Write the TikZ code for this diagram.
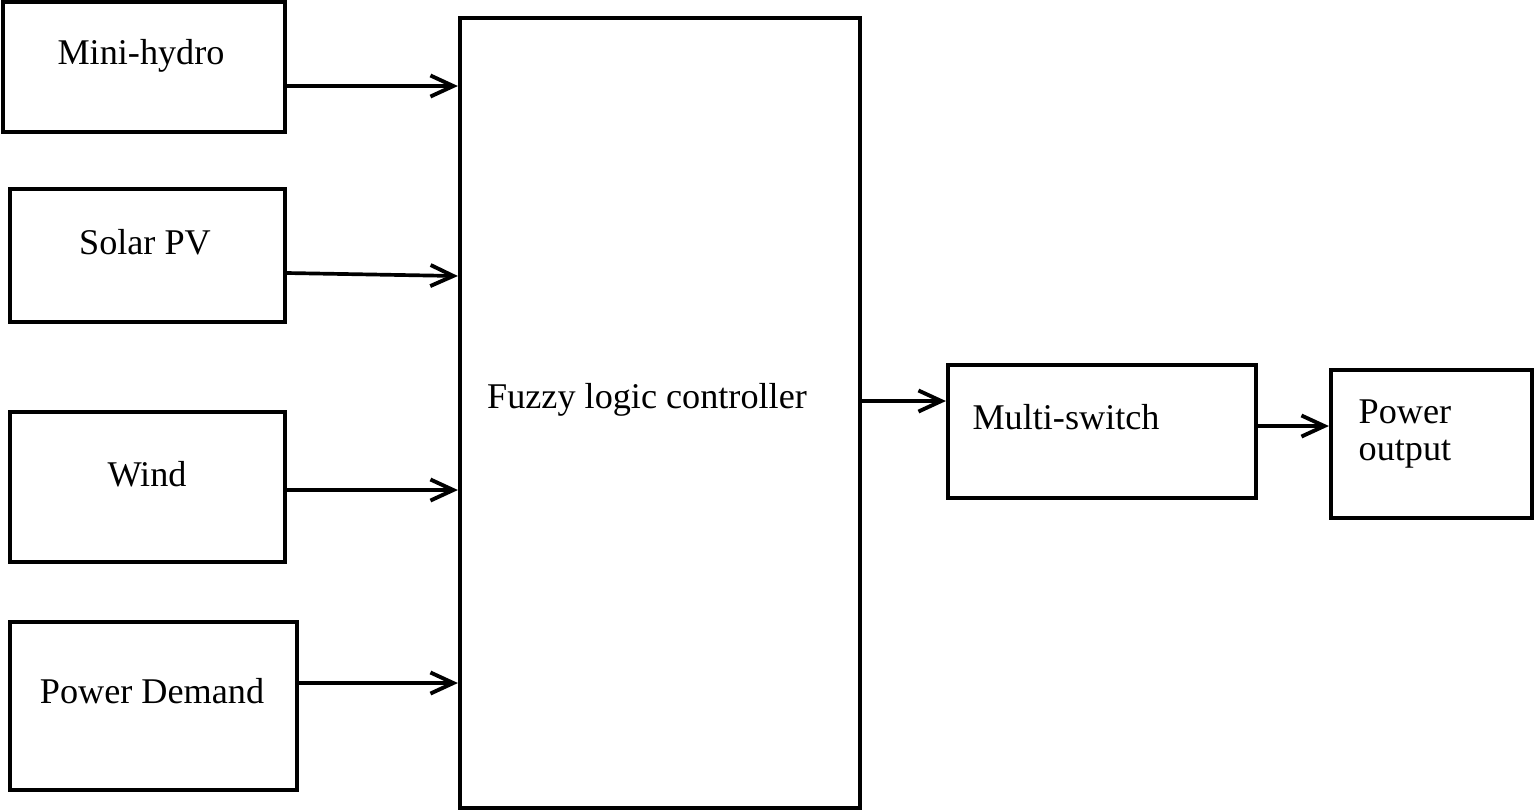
\documentclass[tikz,border=0pt]{standalone}
\usepackage{fontspec}
\setmainfont{Liberation Serif}
\usetikzlibrary{arrows.meta}
\begin{document}
\begin{tikzpicture}[
  box/.style={draw, line width=1.2pt, inner sep=0pt},
  lbl/.style={font=\fontsize{10.3}{10.3}\selectfont, inner sep=0pt},
  arr/.style={line width=1.05pt, -{Straight Barb[length=6.5pt,width=6pt,line width=1.1pt]}}
]
\useasboundingbox (0,0) rectangle (15.34,-8.10);
% boxes
\node[box, minimum width=2.82cm, minimum height=1.30cm] (mh) at (1.44,-0.67) {};
\node[box, minimum width=2.75cm, minimum height=1.33cm] (sp) at (1.475,-2.555) {};
\node[box, minimum width=2.75cm, minimum height=1.50cm] (wd) at (1.475,-4.87) {};
\node[box, minimum width=2.87cm, minimum height=1.68cm] (pd) at (1.535,-7.06) {};
\node[box, minimum width=4.00cm, minimum height=7.90cm] (flc) at (6.60,-4.13) {};
\node[box, minimum width=3.08cm, minimum height=1.33cm] (ms) at (11.02,-4.315) {};
\node[box, minimum width=2.01cm, minimum height=1.48cm] (po) at (14.315,-4.44) {};
% labels
\node[lbl] (tmh) at (1.41,-0.56) {Mini-hydro};
\node[lbl] (tsp) at (1.45,-2.42) {Solar PV};
\node[lbl] (twd) at (1.47,-4.74) {Wind};
\node[lbl] (tpd) at (1.52,-6.91) {Power Demand};
\node[lbl] (tflc) at (6.47,-4.00) {Fuzzy logic controller};
\node[lbl] (tms) at (10.66,-4.17) {Multi-switch};
\node[lbl, align=left, anchor=west] (tpo) at (13.58,-4.34) {Power\\output};
% connectors
\draw[arr] (mh.east |- 0,-0.86) -- (flc.west |- 0,-0.86);
\draw[arr] (sp.east |- 0,-2.73) -- (flc.west |- 0,-2.76);
\draw[arr] (wd.east |- 0,-4.90) -- (flc.west |- 0,-4.90);
\draw[arr] (pd.east |- 0,-6.83) -- (flc.west |- 0,-6.83);
\draw[arr] (flc.east |- 0,-4.01) -- (ms.west |- 0,-4.01);
\draw[arr] (ms.east |- 0,-4.26) -- (po.west |- 0,-4.26);
\end{tikzpicture}
\end{document}
